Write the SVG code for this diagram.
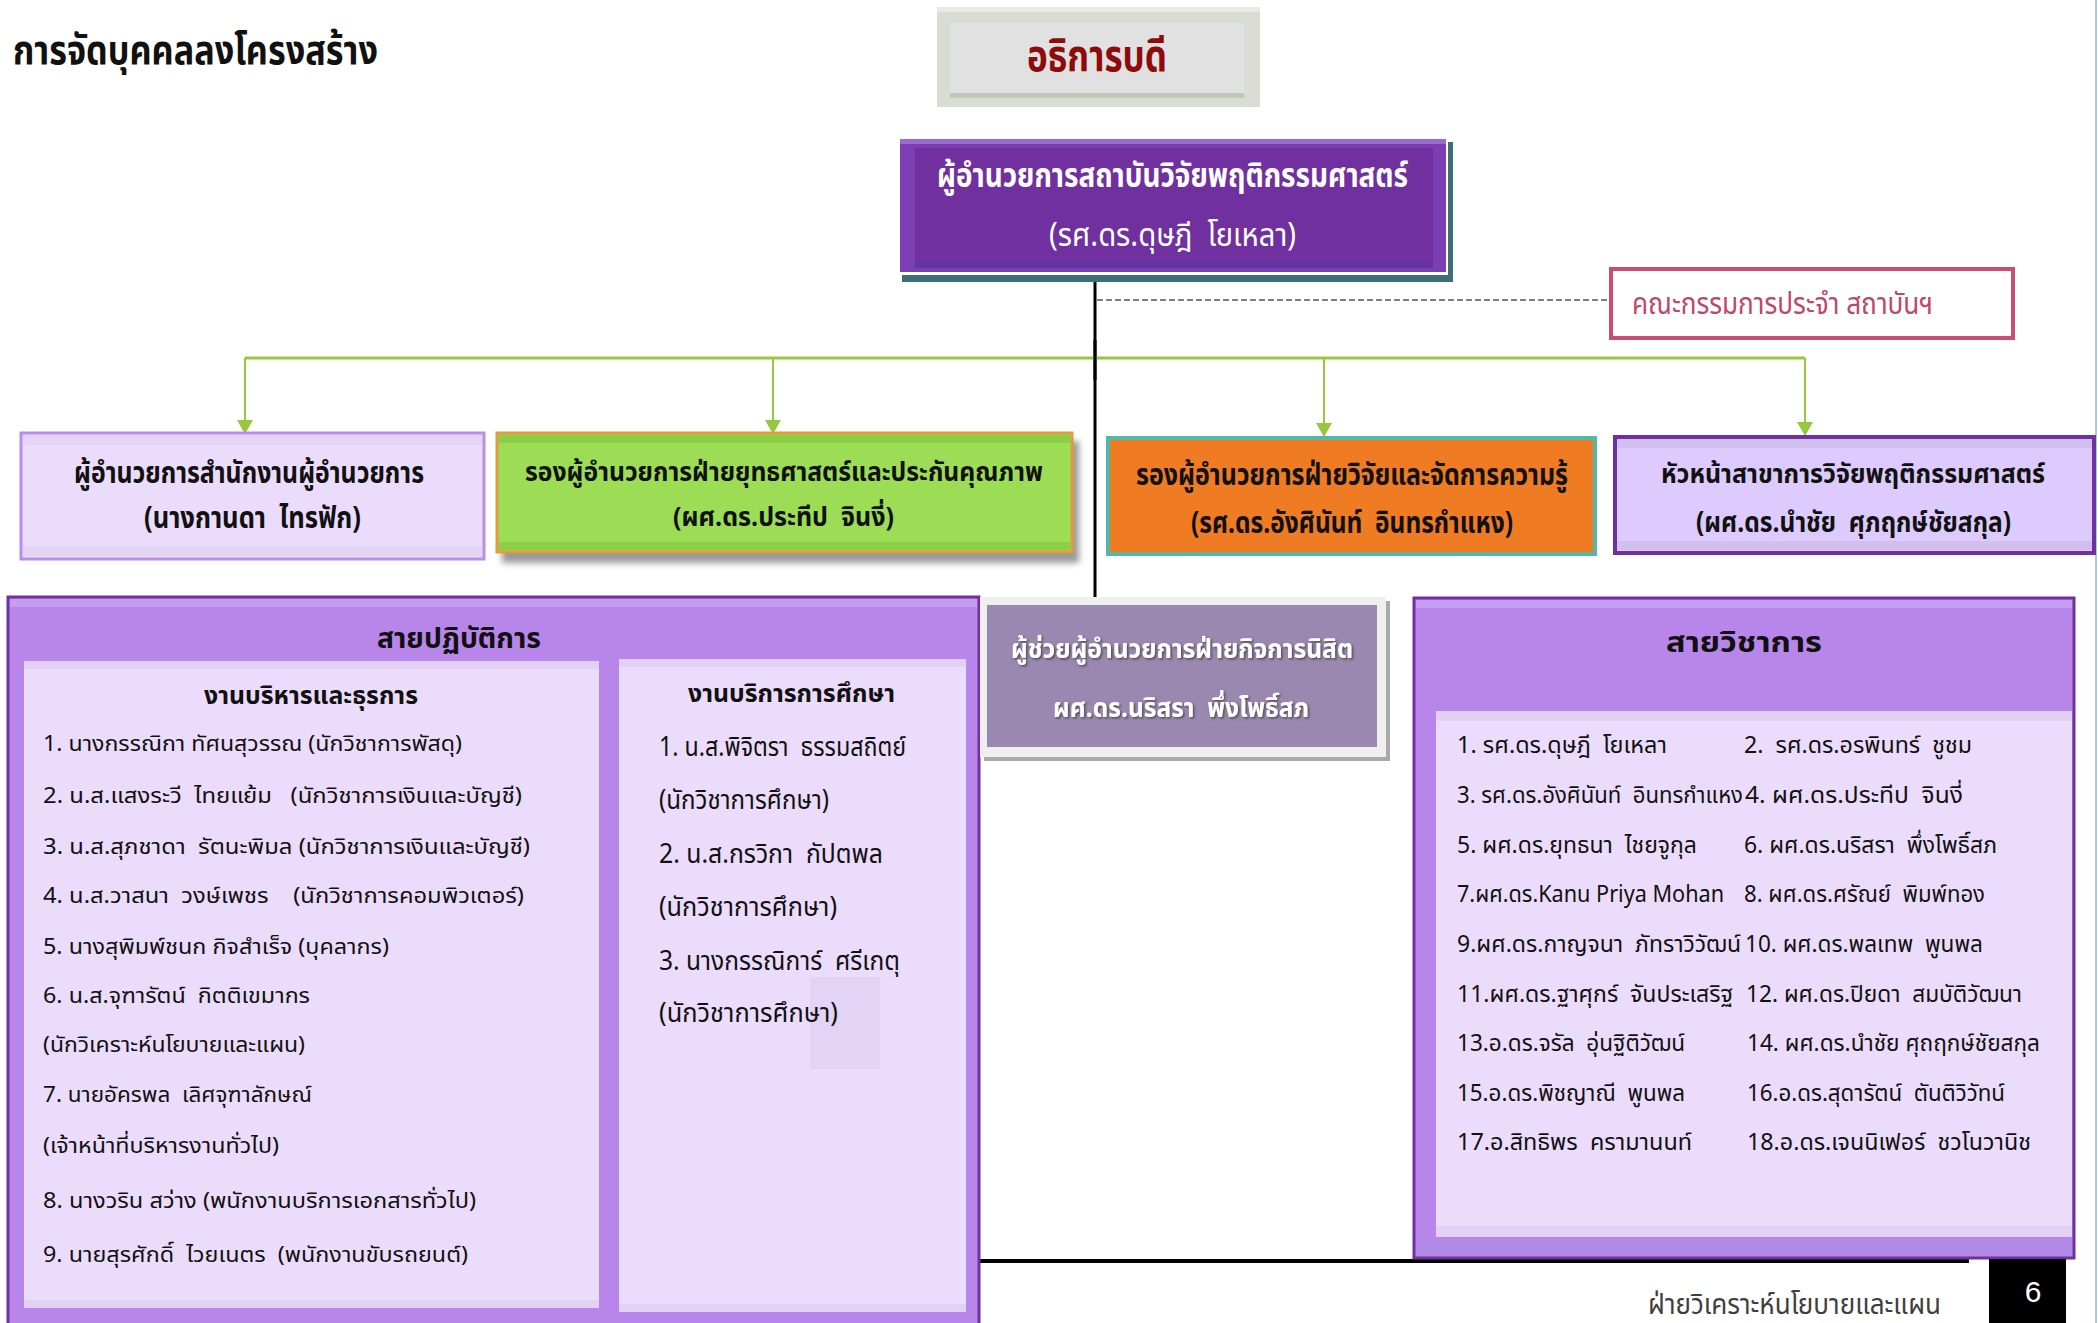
<svg xmlns="http://www.w3.org/2000/svg" width="2098" height="1323" viewBox="0 0 2098 1323">
<style>
text{font-family:"Noto Sans Thai","Noto Sans","DejaVu Sans",sans-serif;white-space:pre;fill:#111}
.b{font-weight:bold}
.w{fill:#fff}
.li{font-size:22px}
.ri{font-size:23px}
.si{font-size:27px}
.band{fill:#e2d1f4}
.pale{fill:#ecdcfc}
.panel{fill:#b886ea;stroke:#7030a0;stroke-width:3}
.gline{stroke:#96c83e;fill:none}
</style>
<defs>
<marker id="ag" markerUnits="userSpaceOnUse" markerWidth="14" markerHeight="16" refX="14" refY="8" orient="auto"><path d="M0,0 L14,8 L0,16 z" fill="#96c83e"/></marker>
<filter id="blur" x="-5%" y="-20%" width="110%" height="140%"><feGaussianBlur stdDeviation="3"/></filter>
<filter id="ts" x="-5%" y="-20%" width="110%" height="140%"><feDropShadow dx="1.5" dy="1.5" stdDeviation="0.8" flood-color="#3a3a3a" flood-opacity="0.8"/></filter>
</defs>
<rect width="2098" height="1323" fill="#fff"/>
<line x1="2096" y1="0" x2="2096" y2="1323" stroke="#8db8e0" stroke-width="1.5"/>

<g id="title">
<text class="b" x="13" y="64" font-size="40" textLength="365" lengthAdjust="spacingAndGlyphs">การจัดบุคคลลงโครงสร้าง</text>
</g>

<g id="node-president">
<rect x="937" y="7" width="323" height="100" fill="#d9dcd3"/>
<rect x="937" y="7" width="323" height="5" fill="#e9eae6"/>
<rect x="950" y="23" width="294" height="70" fill="#e1e1e1"/>
<rect x="950" y="93" width="294" height="5" fill="#c3c6bb"/>
<text class="b" x="1027" y="71" font-size="44" style="fill:#8e0b0b" textLength="140" lengthAdjust="spacingAndGlyphs">อธิการบดี</text>
</g>

<g id="connectors">
<line x1="1095" y1="272" x2="1095" y2="597" stroke="#000" stroke-width="3"/>
<line x1="1097" y1="300" x2="1610" y2="300" stroke="#7f7f7f" stroke-width="2" stroke-dasharray="6 3"/>
<path class="gline" d="M245,358 H1805" stroke-width="3"/>
<path class="gline" d="M245,358 V434" stroke-width="2" marker-end="url(#ag)"/>
<path class="gline" d="M773,358 V434" stroke-width="2" marker-end="url(#ag)"/>
<path class="gline" d="M1324,358 V437" stroke-width="2" marker-end="url(#ag)"/>
<path class="gline" d="M1805,358 V436" stroke-width="2" marker-end="url(#ag)"/>
<line x1="1095" y1="340" x2="1095" y2="380" stroke="#000" stroke-width="3"/>
<line x1="980" y1="1261" x2="1969" y2="1261" stroke="#000" stroke-width="4"/>
</g>

<g id="node-director">
<rect x="902" y="142" width="551" height="140" fill="#3f6e78"/>
<rect x="899" y="137" width="549" height="138" fill="#fff"/>
<rect x="900" y="139" width="546" height="133" fill="#7b3fb3"/>
<rect x="900" y="139" width="546" height="5" fill="#9b6bd0"/>
<rect x="915" y="148" width="518" height="117" fill="#7030a0"/>
<rect x="915" y="262" width="518" height="6" fill="#6433a6"/>
<text class="w b" x="937" y="187" font-size="34" textLength="471" lengthAdjust="spacingAndGlyphs">ผู้อำนวยการสถาบันวิจัยพฤติกรรมศาสตร์</text>
<text class="w" x="1049" y="246" font-size="32" textLength="247" lengthAdjust="spacingAndGlyphs">(รศ.ดร.ดุษฎี  โยเหลา)</text>
</g>

<g id="node-committee">
<rect x="1611" y="269" width="402" height="69" fill="#fff" stroke="#c8506e" stroke-width="4"/>
<text x="1632" y="314" font-size="30" style="fill:#c0466a" textLength="301" lengthAdjust="spacingAndGlyphs">คณะกรรมการประจำ สถาบันฯ</text>
</g>

<g id="node-office">
<rect x="21" y="433" width="463" height="126" fill="#ecdcfc" stroke="#b98ee9" stroke-width="3"/>
<rect x="23" y="435" width="459" height="10" fill="#e3d4f5"/>
<rect x="23" y="546" width="459" height="10" fill="#e3d4f5"/>
<text class="b" x="74" y="483" font-size="30" textLength="350" lengthAdjust="spacingAndGlyphs">ผู้อำนวยการสำนักงานผู้อำนวยการ</text>
<text class="b" x="144" y="528" font-size="30" textLength="217" lengthAdjust="spacingAndGlyphs">(นางกานดา  ไทรฟัก)</text>
</g>

<g id="node-strategy">
<rect x="502" y="441" width="577" height="122" fill="#555" opacity="0.6" filter="url(#blur)"/>
<rect x="497" y="433" width="575" height="119" fill="#9cdd55" stroke="#e29a3c" stroke-width="3"/>
<rect x="499" y="435" width="571" height="8" fill="#8ccf47"/>
<rect x="499" y="542" width="571" height="8" fill="#8ccf47"/>
<text class="b" x="525" y="481" font-size="26" textLength="518" lengthAdjust="spacingAndGlyphs">รองผู้อำนวยการฝ่ายยุทธศาสตร์และประกันคุณภาพ</text>
<text class="b" x="673" y="526" font-size="26" textLength="221" lengthAdjust="spacingAndGlyphs">(ผศ.ดร.ประทีป  จินงี่)</text>
</g>

<g id="node-research">
<rect x="1108" y="438" width="487" height="116" fill="#ef7b22" stroke="#55b8a6" stroke-width="4"/>
<text class="b" x="1136" y="485" font-size="30" textLength="432" lengthAdjust="spacingAndGlyphs">รองผู้อำนวยการฝ่ายวิจัยและจัดการความรู้</text>
<text class="b" x="1191" y="533" font-size="30" textLength="322" lengthAdjust="spacingAndGlyphs">(รศ.ดร.อังศินันท์  อินทรกำแหง)</text>
</g>

<g id="node-head">
<rect x="1615" y="437" width="479" height="116" fill="#dccbfc" stroke="#7030a0" stroke-width="4"/>
<rect x="1617" y="439" width="475" height="9" fill="#d2bff0"/>
<rect x="1617" y="541" width="475" height="9" fill="#d2bff0"/>
<text class="b" x="1661" y="483" font-size="27" textLength="384" lengthAdjust="spacingAndGlyphs">หัวหน้าสาขาการวิจัยพฤติกรรมศาสตร์</text>
<text class="b" x="1696" y="532" font-size="28" textLength="315" lengthAdjust="spacingAndGlyphs">(ผศ.ดร.นำชัย  ศุภฤกษ์ชัยสกุล)</text>
</g>

<g id="node-operations">
<rect class="panel" x="8" y="597" width="971" height="740"/>
<rect x="10" y="599" width="967" height="8" fill="#c49cf0"/>
<text class="b" x="377" y="648" font-size="28" textLength="164" lengthAdjust="spacingAndGlyphs">สายปฏิบัติการ</text>
<g id="node-admin">
<rect class="pale" x="24" y="661" width="575" height="647"/>
<rect class="band" x="24" y="661" width="575" height="8"/>
<rect class="band" x="24" y="1300" width="575" height="8"/>
<text class="b" x="204" y="704" font-size="24" textLength="214" lengthAdjust="spacingAndGlyphs">งานบริหารและธุรการ</text>
<text class="li" x="43" y="751" textLength="419" lengthAdjust="spacingAndGlyphs">1. นางกรรณิกา ทัศนสุวรรณ (นักวิชาการพัสดุ)</text>
<text class="li" x="43" y="803" textLength="479" lengthAdjust="spacingAndGlyphs">2. น.ส.แสงระวี  ไทยแย้ม   (นักวิชาการเงินและบัญชี)</text>
<text class="li" x="43" y="854" textLength="487" lengthAdjust="spacingAndGlyphs">3. น.ส.สุภชาดา  รัตนะพิมล (นักวิชาการเงินและบัญชี)</text>
<text class="li" x="43" y="903" textLength="481" lengthAdjust="spacingAndGlyphs">4. น.ส.วาสนา  วงษ์เพชร    (นักวิชาการคอมพิวเตอร์)</text>
<text class="li" x="43" y="954" textLength="346" lengthAdjust="spacingAndGlyphs">5. นางสุพิมพ์ชนก กิจสำเร็จ (บุคลากร)</text>
<text class="li" x="43" y="1003" textLength="267" lengthAdjust="spacingAndGlyphs">6. น.ส.จุฑารัตน์  กิตติเขมากร</text>
<text class="li" x="43" y="1052" textLength="262" lengthAdjust="spacingAndGlyphs">(นักวิเคราะห์นโยบายและแผน)</text>
<text class="li" x="43" y="1102" textLength="269" lengthAdjust="spacingAndGlyphs">7. นายอัครพล  เลิศจุฑาลักษณ์</text>
<text class="li" x="43" y="1153" textLength="236" lengthAdjust="spacingAndGlyphs">(เจ้าหน้าที่บริหารงานทั่วไป)</text>
<text class="li" x="43" y="1208" textLength="433" lengthAdjust="spacingAndGlyphs">8. นางวริน สว่าง (พนักงานบริการเอกสารทั่วไป)</text>
<text class="li" x="43" y="1262" textLength="425" lengthAdjust="spacingAndGlyphs">9. นายสุรศักดิ์  ไวยเนตร  (พนักงานขับรถยนต์)</text>
</g>
<g id="node-education">
<rect class="pale" x="619" y="659" width="347" height="653"/>
<rect class="band" x="619" y="659" width="347" height="8"/>
<rect class="band" x="619" y="1304" width="347" height="8"/>
<rect x="810" y="977" width="70" height="92" fill="#e3d3f5"/>
<text class="b" x="688" y="702" font-size="24" textLength="207" lengthAdjust="spacingAndGlyphs">งานบริการการศึกษา</text>
<text class="si" x="659" y="756" textLength="247" lengthAdjust="spacingAndGlyphs">1. น.ส.พิจิตรา  ธรรมสถิตย์</text>
<text class="si" x="659" y="809" textLength="170" lengthAdjust="spacingAndGlyphs">(นักวิชาการศึกษา)</text>
<text class="si" x="659" y="863" textLength="224" lengthAdjust="spacingAndGlyphs">2. น.ส.กรวิกา  กัปตพล</text>
<text class="si" x="659" y="916" textLength="178" lengthAdjust="spacingAndGlyphs">(นักวิชาการศึกษา)</text>
<text class="si" x="659" y="970" textLength="241" lengthAdjust="spacingAndGlyphs">3. นางกรรณิการ์  ศรีเกตุ</text>
<text class="si" x="659" y="1022" textLength="179" lengthAdjust="spacingAndGlyphs">(นักวิชาการศึกษา)</text>
</g>
</g>

<g id="node-student-affairs">
<rect x="984" y="601" width="406" height="160" fill="#a9a9a9"/>
<rect x="980" y="597" width="406" height="160" fill="#efefef"/>
<rect x="987" y="605" width="390" height="142" fill="#9b88b0"/>
<text class="w b" x="1011" y="658" font-size="26" filter="url(#ts)" textLength="342" lengthAdjust="spacingAndGlyphs">ผู้ช่วยผู้อำนวยการฝ่ายกิจการนิสิต</text>
<text class="w b" x="1053" y="717" font-size="26" filter="url(#ts)" textLength="256" lengthAdjust="spacingAndGlyphs">ผศ.ดร.นริสรา  พึ่งโพธิ์สภ</text>
</g>

<g id="node-academic">
<rect class="panel" x="1414" y="598" width="660" height="660"/>
<rect x="1416" y="600" width="656" height="8" fill="#c49cf0"/>
<rect x="1416" y="1240" width="656" height="16" fill="#b08ae6"/>
<text class="b" x="1666" y="652" font-size="29" textLength="156" lengthAdjust="spacingAndGlyphs">สายวิชาการ</text>
<rect class="pale" x="1436" y="711" width="636" height="526"/>
<rect class="band" x="1436" y="711" width="636" height="10"/>
<rect class="band" x="1436" y="1226" width="636" height="11"/>
<text class="ri" x="1457" y="753" textLength="210" lengthAdjust="spacingAndGlyphs">1. รศ.ดร.ดุษฎี  โยเหลา</text>
<text class="ri" x="1744" y="753" textLength="228" lengthAdjust="spacingAndGlyphs">2.  รศ.ดร.อรพินทร์  ชูชม</text>
<text class="ri" x="1457" y="803" textLength="286" lengthAdjust="spacingAndGlyphs">3. รศ.ดร.อังศินันท์  อินทรกำแหง</text>
<text class="ri" x="1745" y="803" textLength="218" lengthAdjust="spacingAndGlyphs">4. ผศ.ดร.ประทีป  จินงี่</text>
<text class="ri" x="1457" y="853" textLength="240" lengthAdjust="spacingAndGlyphs">5. ผศ.ดร.ยุทธนา  ไชยจูกุล</text>
<text class="ri" x="1744" y="853" textLength="253" lengthAdjust="spacingAndGlyphs">6. ผศ.ดร.นริสรา  พึ่งโพธิ์สภ</text>
<text class="ri" x="1457" y="902" textLength="267" lengthAdjust="spacingAndGlyphs">7.ผศ.ดร.Kanu Priya Mohan</text>
<text class="ri" x="1744" y="902" textLength="241" lengthAdjust="spacingAndGlyphs">8. ผศ.ดร.ศรัณย์  พิมพ์ทอง</text>
<text class="ri" x="1457" y="952" textLength="284" lengthAdjust="spacingAndGlyphs">9.ผศ.ดร.กาญจนา  ภัทราวิวัฒน์</text>
<text class="ri" x="1745" y="952" textLength="238" lengthAdjust="spacingAndGlyphs">10. ผศ.ดร.พลเทพ  พูนพล</text>
<text class="ri" x="1457" y="1002" textLength="276" lengthAdjust="spacingAndGlyphs">11.ผศ.ดร.ฐาศุกร์  จันประเสริฐ</text>
<text class="ri" x="1746" y="1002" textLength="276" lengthAdjust="spacingAndGlyphs">12. ผศ.ดร.ปิยดา  สมบัติวัฒนา</text>
<text class="ri" x="1457" y="1051" textLength="228" lengthAdjust="spacingAndGlyphs">13.อ.ดร.จรัล  อุ่นฐิติวัฒน์</text>
<text class="ri" x="1747" y="1051" textLength="293" lengthAdjust="spacingAndGlyphs">14. ผศ.ดร.นำชัย ศุถฤกษ์ชัยสกุล</text>
<text class="ri" x="1457" y="1101" textLength="228" lengthAdjust="spacingAndGlyphs">15.อ.ดร.พิชญาณี  พูนพล</text>
<text class="ri" x="1747" y="1101" textLength="258" lengthAdjust="spacingAndGlyphs">16.อ.ดร.สุดารัตน์  ตันติวิวัทน์</text>
<text class="ri" x="1457" y="1150" textLength="235" lengthAdjust="spacingAndGlyphs">17.อ.สิทธิพร  ครามานนท์</text>
<text class="ri" x="1747" y="1150" textLength="284" lengthAdjust="spacingAndGlyphs">18.อ.ดร.เจนนิเฟอร์  ชวโนวานิช</text>
</g>

<g id="footer">
<text x="1648" y="1314" font-size="28" style="fill:#3f3f3f" textLength="293" lengthAdjust="spacingAndGlyphs">ฝ่ายวิเคราะห์นโยบายและแผน</text>
<rect x="1989" y="1259" width="77" height="64" fill="#000"/>
<text class="w" x="2033" y="1302" font-size="30" text-anchor="middle" style="font-family:'Liberation Sans',Arial,sans-serif">6</text>
</g>
</svg>
